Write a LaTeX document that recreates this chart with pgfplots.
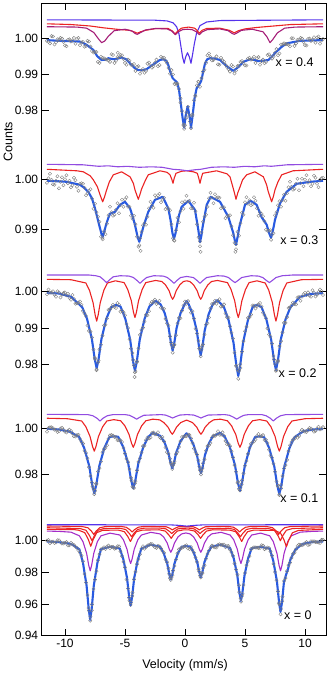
\documentclass[border=0pt]{standalone}
\usepackage{fontspec}
\setmainfont{Liberation Sans}
\usepackage{pgfplots}
\pgfplotsset{compat=1.18}

\definecolor{fitblue}{RGB}{40,90,225}
\definecolor{cred}{RGB}{235,35,35}
\definecolor{cviolet}{RGB}{145,75,225}
\definecolor{cmag}{RGB}{165,30,120}
\definecolor{cpurp}{RGB}{165,45,200}
\definecolor{cbv}{RGB}{85,50,235}

\pgfplotsset{
  panel/.style={
    scale only axis, width=284.3pt, anchor=north west,
    xmin=-11.94, xmax=11.75,
    axis line style={draw=none},
    major tick style={black, line width=0.8pt},
    major tick length=7pt,
    ytick pos=both,
    /pgf/number format/assume math mode=true,
    yticklabel style={/pgf/number format/.cd, fixed, fixed zerofill, precision=2},
    tick label style={font=\fontsize{12}{14}\selectfont},
  },
  scat/.style={only marks, mark=o, mark size=1.65pt, mark options={draw=black!50, line width=0.4pt}},
  fit/.style={fitblue, line width=2.1pt, line join=round},
  comp/.style={line width=1.1pt, line join=round},
}
\newcommand{\lab}{\fontsize{12.5}{14}\selectfont}

\begin{document}
\begin{tikzpicture}
\useasboundingbox (0,0) rectangle (331pt,-674pt);

% ---- x = 0.4
\begin{axis}[panel, name=p1, at={(41.7pt,-3pt)}, height=137pt,
  ymin=0.97191, ymax=1.00975, ytick={0.98,0.99,1.00},
  xtick={-10,-5,0,5,10}, xtick pos=right, xticklabels={}]
\addplot[scat] coordinates {
(-11.5,0.9993) (-11.25,0.9986) (-11.0,1.0005) (-10.75,0.9989) (-10.5,0.9995) (-10.25,0.9999) (-10.0,0.998) (-9.75,0.9996) (-9.5,0.9991) (-9.25,1.0001)
(-9.0,0.9998) (-8.75,0.9981) (-8.5,0.999) (-8.25,0.9979) (-8.0,0.9991) (-7.75,0.9965) (-7.5,0.9962) (-7.25,0.9935) (-7.0,0.9949) (-6.75,0.9945)
(-6.5,0.9941) (-6.25,0.9935) (-6.0,0.9954) (-5.75,0.9938) (-5.5,0.9947) (-5.25,0.9953) (-5.0,0.9932) (-4.75,0.9941) (-4.5,0.9927) (-4.25,0.9929)
(-4.0,0.9921) (-3.75,0.9902) (-3.5,0.9915) (-3.25,0.991) (-3.0,0.9933) (-2.75,0.9919) (-2.5,0.9932) (-2.25,0.9923) (-2.0,0.9949) (-1.75,0.9946)
(-1.5,0.9932) (-1.25,0.9902) (-1.0,0.99) (-0.75,0.9876) (-0.5,0.986) (-0.25,0.9799) (0.0,0.976) (0.25,0.9811) (0.5,0.9752) (0.75,0.9829)
(1.0,0.987) (1.25,0.9866) (1.5,0.9908) (1.75,0.9932) (2.0,0.9958) (2.25,0.9939) (2.5,0.9945) (2.75,0.9928) (3.0,0.9946) (3.25,0.9935)
(3.5,0.9921) (3.75,0.9908) (4.0,0.9922) (4.25,0.9911) (4.5,0.9924) (4.75,0.9937) (5.0,0.9925) (5.25,0.9944) (5.5,0.9941) (5.75,0.9949)
(6.0,0.9945) (6.25,0.9927) (6.5,0.9941) (6.75,0.9935) (7.0,0.9956) (7.25,0.9944) (7.5,0.996) (7.75,0.9953) (8.0,0.9983) (8.25,0.9986)
(8.5,0.9984) (8.75,0.9978) (9.0,1.0) (9.25,0.9986) (9.5,0.9995) (9.75,0.9999) (10.0,0.9981) (10.25,0.9998) (10.5,0.9993) (10.75,1.0003)
(11.0,1.0002) (11.25,0.9985) (11.5,0.9998)
(-0.07,0.975) (-0.12,0.9762) (0.42,0.977) (0.12,0.9795) (0.62,0.979) (-0.38,0.9822) (0.85,0.9842) (-0.7,0.9872) (1.1,0.988) (-5.6,0.996)
};
\addplot[scat] coordinates {
(-11.375,0.999) (-11.125,1.0006) (-10.875,0.9983) (-10.625,0.9997) (-10.375,1.0001) (-10.125,0.999) (-9.875,0.9978) (-9.625,0.9997) (-9.375,0.9994) (-9.125,0.9985)
(-8.875,1.0001) (-8.625,0.9988) (-8.375,0.9977) (-8.125,0.9993) (-7.875,0.9977) (-7.625,0.9961) (-7.375,0.9962) (-7.125,0.9932) (-6.875,0.9946) (-6.625,0.9942)
(-6.375,0.9939) (-6.125,0.9956) (-5.875,0.9932) (-5.625,0.9948) (-5.375,0.9954) (-5.125,0.9943) (-4.875,0.9927) (-4.625,0.9938) (-4.375,0.9926) (-4.125,0.991)
(-3.875,0.9923) (-3.625,0.9911) (-3.375,0.9905) (-3.125,0.993) (-2.875,0.9925) (-2.625,0.9923) (-2.375,0.9941) (-2.125,0.9926) (-1.875,0.9946) (-1.625,0.9938)
(-1.375,0.9918) (-1.125,0.9912) (-0.875,0.9874) (-0.625,0.9874) (-0.375,0.9834) (-0.125,0.9759) (0.125,0.9781) (0.375,0.9787) (0.625,0.9786) (0.875,0.984)
(1.125,0.988) (1.375,0.989) (1.625,0.9913) (1.875,0.9953) (2.125,0.9948) (2.375,0.994) (2.625,0.995) (2.875,0.9927) (3.125,0.9939) (3.375,0.9927)
(3.625,0.9915) (3.875,0.9926) (4.125,0.9903) (4.375,0.9923) (4.625,0.9935) (4.875,0.9931) (5.125,0.9925) (5.375,0.9946) (5.625,0.9943) (5.875,0.9932)
(6.125,0.9948) (6.375,0.9937) (6.625,0.9931) (6.875,0.9954) (7.125,0.9949) (7.375,0.995) (7.625,0.997) (7.875,0.9958) (8.125,0.9983) (8.375,0.9984)
(8.625,0.9982) (8.875,1.0) (9.125,0.9979) (9.375,0.9996) (9.625,1.0001) (9.875,0.999) (10.125,0.998) (10.375,0.9999) (10.625,0.9996) (10.875,0.9988)
(11.125,1.0005) (11.375,0.9994)
};
\addplot[fit] coordinates {
(-11.5,0.9995) (-10.5,0.9993) (-9.5,0.9992) (-8.75,0.9991) (-8.2,0.9982) (-7.64,0.9968) (-7.3,0.995) (-6.95,0.994) (-6.6,0.9941) (-6.39,0.9945)
(-6.1,0.9943) (-5.83,0.9942) (-5.5,0.9945) (-5.28,0.9947) (-4.9,0.9942) (-4.58,0.9931) (-4.2,0.9918) (-3.89,0.9912) (-3.5,0.9912) (-3.19,0.9915)
(-2.8,0.9924) (-2.5,0.9931) (-2.1,0.994) (-1.81,0.9942) (-1.55,0.9938) (-1.39,0.9926) (-1.2,0.9905) (-1.03,0.989) (-0.85,0.9884) (-0.65,0.9878)
(-0.5,0.9858) (-0.35,0.982) (-0.2,0.978) (-0.07,0.9753) (0.05,0.9785) (0.22,0.9812) (0.38,0.9785) (0.5,0.9753) (0.63,0.9785) (0.8,0.9835)
(0.97,0.9862) (1.15,0.987) (1.35,0.9882) (1.5,0.9905) (1.67,0.9931) (1.85,0.9942) (2.08,0.9945) (2.5,0.9944) (2.92,0.994) (3.4,0.9925)
(4.03,0.991) (4.5,0.9922) (4.86,0.9935) (5.42,0.9942) (5.8,0.994) (6.1,0.9937) (6.5,0.9938) (6.94,0.994) (7.2,0.9948) (7.5,0.9959)
(8.0,0.9975) (8.47,0.9986) (9.58,0.9993) (10.5,0.9994) (11.5,0.9995)
};
\addplot[comp, cbv] coordinates {
(-11.5,1.0051) (-2.5,1.005) (-1.5,1.0048) (-1.0,1.0043) (-0.7,1.0032) (-0.5,1.0012) (-0.35,0.998) (-0.2,0.9948) (-0.07,0.9931) (0.05,0.9948)
(0.21,0.996) (0.37,0.9948) (0.5,0.9931) (0.63,0.9955) (0.78,0.9985) (0.97,1.0015) (1.25,1.0035) (1.8,1.0045) (2.9,1.0049) (11.5,1.0051)
};
\addplot[comp, cred] coordinates {
(-11.5,1.004) (-9.5,1.0038) (-7.9,1.0034) (-6.8,1.0029) (-5.7,1.0025) (-4.6,1.0022) (-4.25,1.0018) (-3.97,1.0014) (-3.7,1.0018) (-3.3,1.0022)
(-2.4,1.0027) (-1.4,1.0027) (-1.05,1.002) (-0.83,1.0012) (-0.6,1.002) (-0.3,1.0028) (0.3,1.0031) (0.8,1.0028) (1.0,1.0022) (1.2,1.0014)
(1.42,1.0022) (1.8,1.0027) (2.9,1.0028) (3.7,1.0022) (4.1,1.0015) (4.45,1.0021) (5.0,1.0026) (6.0,1.003) (7.4,1.0034) (8.8,1.0038) (11.5,1.004)
};
\addplot[comp, cmag] coordinates {
(-11.5,1.0032) (-9.0,1.0031) (-8.2,1.0028) (-7.6,1.0016) (-7.2,0.9998) (-6.95,0.9988) (-6.7,0.9992) (-6.4,1.0005) (-5.9,1.0021) (-5.0,1.0025)
(-4.4,1.002) (-4.15,1.0013) (-3.97,1.0011) (-3.75,1.0015) (-3.3,1.0023) (-2.5,1.0027) (-1.5,1.0026) (-1.1,1.002) (-0.8,1.001) (-0.55,1.0018)
(-0.2,1.0024) (0.2,1.0025) (0.6,1.0024) (0.95,1.0018) (1.2,1.001) (1.45,1.0018) (1.85,1.0024) (2.9,1.0026) (3.6,1.0021) (3.9,1.0014)
(4.1,1.0011) (4.3,1.0014) (4.7,1.0022) (5.6,1.0025) (6.5,1.0018) (6.85,1.0003) (7.08,0.9988) (7.3,0.9996) (7.7,1.0015) (8.3,1.0028)
(9.2,1.0031) (11.5,1.0032)
};
\node[anchor=east, font=\lab] at (axis cs:11.0,0.9934) {x = 0.4};
\end{axis}

% ---- x = 0.3
\begin{axis}[panel, name=p2, at={(41.7pt,-140pt)}, height=122pt,
  ymin=0.98346, ymax=1.00786, ytick={0.99,1.00}, xtick=\empty]
\addplot[scat] coordinates {
(-11.5,0.9993) (-11.25,1.0011) (-11.0,0.999) (-10.75,0.9997) (-10.5,0.9982) (-10.25,1.0004) (-10.0,1.0) (-9.75,0.9992) (-9.5,0.9984) (-9.25,1.0003)
(-9.0,0.9985) (-8.75,0.9991) (-8.5,0.9991) (-8.25,0.9968) (-8.0,0.9977) (-7.75,0.9961) (-7.5,0.9951) (-7.25,0.9925) (-7.0,0.9885) (-6.75,0.9896)
(-6.5,0.9911) (-6.25,0.9945) (-6.0,0.9927) (-5.75,0.9939) (-5.5,0.9932) (-5.25,0.9959) (-5.0,0.996) (-4.75,0.9945) (-4.5,0.9927) (-4.25,0.9927)
(-4.0,0.9885) (-3.75,0.9882) (-3.5,0.9908) (-3.25,0.9909) (-3.0,0.9942) (-2.75,0.9947) (-2.5,0.9968) (-2.25,0.9968) (-2.0,0.9954) (-1.75,0.9963)
(-1.5,0.9943) (-1.25,0.9938) (-1.0,0.9882) (-0.75,0.9898) (-0.5,0.9914) (-0.25,0.9954) (0.0,0.9956) (0.25,0.9955) (0.5,0.9942) (0.75,0.9953)
(1.0,0.991) (1.25,0.9876) (1.5,0.9915) (1.75,0.9929) (2.0,0.9962) (2.25,0.9963) (2.5,0.997) (2.75,0.9964) (3.0,0.9942) (3.25,0.9944)
(3.5,0.9926) (3.75,0.9928) (4.0,0.9888) (4.25,0.987) (4.5,0.9887) (4.75,0.9933) (5.0,0.9954) (5.25,0.9951) (5.5,0.9948) (5.75,0.9964)
(6.0,0.9942) (6.25,0.9934) (6.5,0.9926) (6.75,0.9899) (7.0,0.9897) (7.25,0.9889) (7.5,0.9928) (7.75,0.9948) (8.0,0.9945) (8.25,0.9969)
(8.5,0.9972) (8.75,0.9995) (9.0,0.9979) (9.25,0.9991) (9.5,0.9978) (9.75,1.0001) (10.0,0.9999) (10.25,0.9993) (10.5,0.9986) (10.75,1.0007)
(11.0,0.9991) (11.25,0.9999) (11.5,1.0003)
(-6.86,0.988) (-3.81,0.9868) (-0.92,0.9878) (1.25,0.9866) (4.25,0.986) (7.17,0.9879) (-3.7,0.9857) (1.3,0.9855) (4.2,0.9855)
};
\addplot[scat] coordinates {
(-11.375,1.0002) (-11.125,0.9999) (-10.875,0.9989) (-10.625,1.0006) (-10.375,0.9995) (-10.125,0.9988) (-9.875,1.0008) (-9.625,0.9997) (-9.375,0.9988) (-9.125,0.9998)
(-8.875,0.9977) (-8.625,0.9992) (-8.375,0.9983) (-8.125,0.9972) (-7.875,0.998) (-7.625,0.9941) (-7.375,0.9934) (-7.125,0.9915) (-6.875,0.9883) (-6.625,0.989)
(-6.375,0.9928) (-6.125,0.9934) (-5.875,0.9929) (-5.625,0.9952) (-5.375,0.9948) (-5.125,0.9945) (-4.875,0.9964) (-4.625,0.9945) (-4.375,0.9921) (-4.125,0.991)
(-3.875,0.9865) (-3.625,0.9895) (-3.375,0.9912) (-3.125,0.9925) (-2.875,0.9955) (-2.625,0.9943) (-2.375,0.9964) (-2.125,0.9971) (-1.875,0.9959) (-1.625,0.994)
(-1.375,0.9941) (-1.125,0.991) (-0.875,0.9877) (-0.625,0.9923) (-0.375,0.9936) (-0.125,0.9941) (0.125,0.9967) (0.375,0.9957) (0.625,0.9942) (0.875,0.9936)
(1.125,0.9884) (1.375,0.9894) (1.625,0.9925) (1.875,0.9945) (2.125,0.9973) (2.375,0.9952) (2.625,0.9963) (2.875,0.9963) (3.125,0.9944) (3.375,0.9922)
(3.625,0.9927) (3.875,0.9906) (4.125,0.9873) (4.375,0.9895) (4.625,0.9912) (4.875,0.9929) (5.125,0.9964) (5.375,0.9958) (5.625,0.995) (5.875,0.9957)
(6.125,0.9927) (6.375,0.9931) (6.625,0.9916) (6.875,0.9897) (7.125,0.9898) (7.375,0.9892) (7.625,0.9934) (7.875,0.9956) (8.125,0.9958) (8.375,0.9957)
(8.625,0.9984) (8.875,0.9985) (9.125,0.9981) (9.375,1.0001) (9.625,0.9992) (9.875,0.9986) (10.125,1.0008) (10.375,0.9998) (10.625,0.9991) (10.875,1.0003)
(11.125,0.9984) (11.375,1.0002)
};
\addplot[fit] coordinates {
(-11.5,0.9997) (-10.5,0.9996) (-9.86,0.9995) (-9.3,0.9992) (-8.75,0.9989) (-8.4,0.9983) (-8.06,0.9975) (-7.75,0.9962) (-7.5,0.9942) (-7.25,0.9918)
(-7.08,0.9902) (-6.95,0.989) (-6.86,0.9885) (-6.75,0.9893) (-6.58,0.9909) (-6.4,0.9922) (-6.25,0.9931) (-5.83,0.9935) (-5.42,0.9949) (-5.0,0.9955)
(-4.58,0.9942) (-4.35,0.9925) (-4.17,0.9909) (-3.95,0.9885) (-3.81,0.9875) (-3.67,0.9887) (-3.47,0.9905) (-3.06,0.9935) (-2.5,0.9959) (-1.86,0.9965)
(-1.39,0.9942) (-1.2,0.9918) (-1.05,0.9893) (-0.92,0.9881) (-0.8,0.9891) (-0.69,0.9905) (-0.5,0.9928) (-0.28,0.9945) (0.28,0.9957) (0.83,0.9939)
(1.0,0.9915) (1.11,0.9899) (1.25,0.9874) (1.37,0.9888) (1.47,0.9905) (1.81,0.9949) (2.14,0.9965) (2.92,0.9955) (3.61,0.9925) (4.03,0.9892)
(4.15,0.9878) (4.25,0.9869) (4.38,0.9884) (4.53,0.9905) (5.0,0.9949) (5.47,0.9957) (5.97,0.9949) (6.39,0.9924) (6.81,0.9909) (7.0,0.9893)
(7.17,0.9883) (7.33,0.9898) (7.5,0.9919) (7.92,0.9952) (8.47,0.9975) (9.31,0.9991) (10.42,0.9995) (11.5,0.9997)
};
\addplot[comp, cred] coordinates {
(-11.5,1.002) (-9.0,1.0017) (-8.47,1.0015) (-7.9,1.0007) (-7.64,0.9999) (-7.3,0.9985) (-7.08,0.9969) (-6.86,0.9955) (-6.7,0.9965) (-6.58,0.9975)
(-6.3,0.9995) (-5.97,1.0009) (-5.28,1.0015) (-4.58,1.0005) (-4.3,0.9992) (-4.17,0.9979) (-3.89,0.996) (-3.75,0.997) (-3.61,0.9981) (-3.3,0.9998)
(-3.06,1.0009) (-2.08,1.0017) (-1.5,1.0014) (-1.25,1.0009) (-1.1,1.0) (-1.0,0.9992) (-0.9,1.0002) (-0.75,1.0012) (-0.3,1.0016) (0.14,1.0017)
(0.7,1.0015) (1.03,1.0012) (1.15,1.0002) (1.25,0.9992) (1.35,1.0002) (1.47,1.0012) (2.64,1.0017) (3.5,1.0011) (3.75,1.0005) (4.03,0.9981)
(4.15,0.997) (4.25,0.996) (4.4,0.9973) (4.53,0.9981) (4.8,0.9999) (5.14,1.0009) (5.83,1.0015) (6.53,1.0005) (6.8,0.9989) (6.94,0.9975)
(7.22,0.9955) (7.38,0.9967) (7.5,0.9979) (7.75,0.9995) (8.06,1.0009) (9.0,1.0017) (11.5,1.002)
};
\addplot[comp, cviolet] coordinates {
(-11.5,1.003) (-8.5,1.0029) (-7.2,1.0026) (-6.4,1.0027) (-5.6,1.0025) (-4.8,1.0026) (-3.8,1.0024) (-2.8,1.0025) (-1.9,1.0024) (-1.0,1.002)
(-0.4,1.0019) (0.2,1.0017) (0.8,1.0019) (1.3,1.002) (2.2,1.0024) (3.2,1.0025) (4.1,1.0024) (5.0,1.0026) (5.8,1.0025) (6.6,1.0027)
(7.2,1.0026) (8.5,1.0029) (11.5,1.003)
};
\node[anchor=east, font=\lab] at (axis cs:11.4,0.9879) {x = 0.3};
\end{axis}

% ---- x = 0.2
\begin{axis}[panel, name=p3, at={(41.7pt,-262pt)}, height=130pt,
  ymin=0.97237, ymax=1.00818, ytick={0.98,0.99,1.00}, xtick=\empty]
\addplot[scat] coordinates {
(-11.5,0.9993) (-11.25,0.9997) (-11.0,1.0001) (-10.75,0.9986) (-10.5,0.9998) (-10.25,0.9992) (-10.0,0.9998) (-9.75,0.9994) (-9.5,0.9978) (-9.25,0.998)
(-9.0,0.9968) (-8.75,0.9973) (-8.5,0.9947) (-8.25,0.9933) (-8.0,0.9892) (-7.75,0.9874) (-7.5,0.9815) (-7.25,0.9805) (-7.0,0.9854) (-6.75,0.9907)
(-6.5,0.9926) (-6.25,0.9951) (-6.0,0.9964) (-5.75,0.9955) (-5.5,0.9964) (-5.25,0.9948) (-5.0,0.9935) (-4.75,0.99) (-4.5,0.9843) (-4.25,0.9797)
(-4.0,0.9808) (-3.75,0.9881) (-3.5,0.9901) (-3.25,0.9936) (-3.0,0.9946) (-2.75,0.9972) (-2.5,0.9978) (-2.25,0.9969) (-2.0,0.9956) (-1.75,0.9953)
(-1.5,0.9913) (-1.25,0.9877) (-1.0,0.9847) (-0.75,0.988) (-0.5,0.9928) (-0.25,0.9948) (0.0,0.9973) (0.25,0.9974) (0.5,0.9942) (0.75,0.9926)
(1.0,0.9885) (1.25,0.9845) (1.5,0.9855) (1.75,0.9909) (2.0,0.9929) (2.25,0.9966) (2.5,0.9975) (2.75,0.9974) (3.0,0.9959) (3.25,0.9965)
(3.5,0.993) (3.75,0.9905) (4.0,0.9871) (4.25,0.9796) (4.5,0.9782) (4.75,0.9835) (5.0,0.9891) (5.25,0.9928) (5.5,0.9937) (5.75,0.9962)
(6.0,0.9961) (6.25,0.9969) (6.5,0.9942) (6.75,0.9927) (7.0,0.9882) (7.25,0.9857) (7.5,0.9801) (7.75,0.9811) (8.0,0.9864) (8.25,0.9914)
(8.5,0.993) (8.75,0.9956) (9.0,0.997) (9.25,0.9965) (9.5,0.9985) (9.75,0.9986) (10.0,0.9997) (10.25,0.9998) (10.5,0.9986) (10.75,0.9997)
(11.0,0.9992) (11.25,1.0006) (11.5,0.9991)
(-7.36,0.9786) (-4.17,0.9778) (-1.03,0.9832) (1.31,0.9822) (4.44,0.976) (7.58,0.9782) (-4.2,0.9765)
(-7.52,0.9818) (-7.2,0.981) (-4.33,0.9812) (-4.01,0.9806) (-1.16,0.986) (-0.9,0.9853) (1.18,0.9843) (1.44,0.985) (4.28,0.9795) (4.6,0.98) (7.42,0.9813) (7.74,0.9807)
};
\addplot[scat] coordinates {
(-11.375,1.0006) (-11.125,0.9998) (-10.875,0.9992) (-10.625,1.0001) (-10.375,0.9984) (-10.125,0.9996) (-9.875,0.999) (-9.625,0.9983) (-9.375,0.9991) (-9.125,0.9967)
(-8.875,0.997) (-8.625,0.9964) (-8.375,0.994) (-8.125,0.9907) (-7.875,0.989) (-7.625,0.9841) (-7.375,0.9784) (-7.125,0.9841) (-6.875,0.9879) (-6.625,0.9909)
(-6.375,0.995) (-6.125,0.9957) (-5.875,0.9958) (-5.625,0.9969) (-5.375,0.9945) (-5.125,0.9943) (-4.875,0.9911) (-4.625,0.9869) (-4.375,0.9831) (-4.125,0.9781)
(-3.875,0.9844) (-3.625,0.9895) (-3.375,0.9918) (-3.125,0.9935) (-2.875,0.9966) (-2.625,0.9971) (-2.375,0.9966) (-2.125,0.9975) (-1.875,0.9953) (-1.625,0.9925)
(-1.375,0.9907) (-1.125,0.9854) (-0.875,0.9854) (-0.625,0.9913) (-0.375,0.9927) (-0.125,0.9962) (0.125,0.9967) (0.375,0.9955) (0.625,0.9946) (0.875,0.9898)
(1.125,0.9865) (1.375,0.984) (1.625,0.9882) (1.875,0.9913) (2.125,0.9954) (2.375,0.9967) (2.625,0.9967) (2.875,0.9979) (3.125,0.9961) (3.375,0.994)
(3.625,0.9929) (3.875,0.9887) (4.125,0.9832) (4.375,0.9785) (4.625,0.979) (4.875,0.9864) (5.125,0.9903) (5.375,0.993) (5.625,0.9962) (5.875,0.9954)
(6.125,0.9965) (6.375,0.9959) (6.625,0.9935) (6.875,0.9899) (7.125,0.9876) (7.375,0.9823) (7.625,0.9784) (7.875,0.985) (8.125,0.9888) (8.375,0.9914)
(8.625,0.9955) (8.875,0.9962) (9.125,0.9966) (9.375,0.9984) (9.625,0.9975) (9.875,0.9993) (10.125,0.9991) (10.375,0.9989) (10.625,1.0004) (10.875,0.9987)
(11.125,0.9999) (11.375,1.0002)
};
\addplot[fit] coordinates {
(-11.5,0.9997) (-10.5,0.9995) (-9.5,0.9986) (-8.56,0.9957) (-8.16,0.9925) (-7.76,0.987) (-7.52,0.9814) (-7.36,0.9789) (-7.2,0.9814) (-6.96,0.987)
(-6.56,0.9925) (-6.16,0.9957) (-5.75,0.9964) (-5.37,0.9959) (-4.97,0.9925) (-4.57,0.9868) (-4.33,0.9809) (-4.17,0.9782) (-4.01,0.9809) (-3.77,0.9868)
(-3.37,0.9925) (-2.97,0.9959) (-2.45,0.9975) (-2.03,0.9965) (-1.69,0.9941) (-1.36,0.99) (-1.16,0.9857) (-1.03,0.9838) (-0.9,0.9857) (-0.7,0.99)
(-0.37,0.9941) (-0.03,0.9965) (0.14,0.9974) (0.31,0.9965) (0.65,0.9938) (0.98,0.9893) (1.18,0.9846) (1.31,0.9825) (1.44,0.9846) (1.64,0.9893)
(1.97,0.9938) (2.31,0.9965) (2.7,0.9977) (3.24,0.9958) (3.64,0.9921) (4.04,0.986) (4.28,0.9797) (4.44,0.9768) (4.6,0.9797) (4.84,0.986)
(5.24,0.9921) (5.64,0.9958) (6.0,0.9964) (6.38,0.9957) (6.78,0.9924) (7.18,0.9868) (7.42,0.981) (7.58,0.9784) (7.74,0.981) (7.98,0.9868)
(8.38,0.9924) (8.78,0.9957) (9.6,0.9986) (10.5,0.9994) (11.5,0.9996)
};
\addplot[comp, cred] coordinates {
(-11.5,1.0034) (-9.5,1.0033) (-8.26,1.0024) (-7.96,1.0004) (-7.66,0.997) (-7.48,0.9935) (-7.36,0.9919) (-7.24,0.9935) (-7.06,0.997) (-6.76,1.0004)
(-6.46,1.0024) (-5.8,1.003) (-5.07,1.0025) (-4.77,1.0006) (-4.47,0.9975) (-4.29,0.9943) (-4.17,0.9929) (-4.05,0.9943) (-3.87,0.9975) (-3.57,1.0006)
(-3.27,1.0025) (-2.45,1.0031) (-1.93,1.0028) (-1.63,1.0019) (-1.33,1.0003) (-1.15,0.9986) (-1.03,0.9979) (-0.91,0.9986) (-0.73,1.0003) (-0.43,1.0019)
(-0.13,1.0028) (0.14,1.003) (0.41,1.0028) (0.71,1.0019) (1.01,1.0003) (1.19,0.9986) (1.31,0.9979) (1.43,0.9986) (1.61,1.0003) (1.91,1.0019)
(2.21,1.0028) (2.7,1.0031) (3.54,1.0025) (3.84,1.0006) (4.14,0.9975) (4.32,0.9943) (4.44,0.9929) (4.56,0.9943) (4.74,0.9975) (5.04,1.0006)
(5.34,1.0025) (6.0,1.003) (6.68,1.0024) (6.98,1.0004) (7.28,0.997) (7.46,0.9935) (7.58,0.9919) (7.7,0.9935) (7.88,0.997) (8.18,1.0004)
(8.48,1.0024) (9.7,1.0033) (11.5,1.0034)
};
\addplot[comp, cviolet] coordinates {
(-11.5,1.0046) (-8.0,1.0046) (-7.43,1.0044) (-7.08,1.0041) (-6.78,1.0033) (-6.53,1.0025) (-6.28,1.0033) (-5.98,1.0041) (-5.4,1.0044) (-4.65,1.0043)
(-4.3,1.0039) (-4.0,1.0031) (-3.75,1.0023) (-3.5,1.0031) (-3.2,1.0039) (-2.6,1.0044) (-1.8,1.0043) (-1.47,1.0039) (-1.17,1.0031) (-0.92,1.0023)
(-0.67,1.0031) (-0.37,1.0039) (0.15,1.0042) (0.7,1.0039) (1.0,1.0031) (1.25,1.0023) (1.5,1.0031) (1.8,1.0039) (2.7,1.0044) (3.27,1.0043)
(3.62,1.0039) (3.92,1.0031) (4.17,1.0025) (4.42,1.0031) (4.72,1.0039) (5.5,1.0044) (6.13,1.0043) (6.48,1.0039) (6.78,1.0031) (7.03,1.0025)
(7.28,1.0031) (7.58,1.0039) (8.1,1.0044) (9.0,1.0046) (11.5,1.0046)
};
\node[anchor=east, font=\lab] at (axis cs:11.25,0.97752) {x = 0.2};
\end{axis}

% ---- x = 0.1
\begin{axis}[panel, name=p4, at={(41.7pt,-392pt)}, height=128pt,
  ymin=0.95987, ymax=1.01589, ytick={0.98,1.00}, xtick=\empty]
\addplot[scat] coordinates {
(-11.5,0.9985) (-11.25,1.0004) (-11.0,1.0) (-10.75,0.9994) (-10.5,0.9987) (-10.25,1.0002) (-10.0,0.9985) (-9.75,0.9989) (-9.5,0.9988) (-9.25,0.9965)
(-9.0,0.997) (-8.75,0.9953) (-8.5,0.9933) (-8.25,0.9892) (-8.0,0.983) (-7.75,0.9762) (-7.5,0.9726) (-7.25,0.9811) (-7.0,0.9855) (-6.75,0.9909)
(-6.5,0.9926) (-6.25,0.9969) (-6.0,0.9968) (-5.75,0.9962) (-5.5,0.9948) (-5.25,0.994) (-5.0,0.9889) (-4.75,0.9852) (-4.5,0.9783) (-4.25,0.9739)
(-4.0,0.9816) (-3.75,0.9869) (-3.5,0.9922) (-3.25,0.9948) (-3.0,0.9956) (-2.75,0.9979) (-2.5,0.9973) (-2.25,0.9983) (-2.0,0.9956) (-1.75,0.9943)
(-1.5,0.9896) (-1.25,0.9867) (-1.0,0.9839) (-0.75,0.9887) (-0.5,0.9918) (-0.25,0.9962) (0.0,0.9966) (0.25,0.9973) (0.5,0.9956) (0.75,0.9911)
(1.0,0.9885) (1.25,0.9817) (1.5,0.9847) (1.75,0.9902) (2.0,0.9926) (2.25,0.996) (2.5,0.9967) (2.75,0.9987) (3.0,0.9972) (3.25,0.9967)
(3.5,0.993) (3.75,0.9922) (4.0,0.9873) (4.25,0.981) (4.5,0.9735) (4.75,0.9772) (5.0,0.9836) (5.25,0.9888) (5.5,0.9932) (5.75,0.9942)
(6.0,0.9966) (6.25,0.9964) (6.5,0.997) (6.75,0.995) (7.0,0.9906) (7.25,0.9871) (7.5,0.981) (7.75,0.9749) (8.0,0.9737) (8.25,0.9824)
(8.5,0.9862) (8.75,0.9926) (9.0,0.9951) (9.25,0.9964) (9.5,0.9967) (9.75,0.9993) (10.0,0.9985) (10.25,0.9993) (10.5,0.9999) (10.75,0.9985)
(11.0,0.9999) (11.25,0.9995) (11.5,1.0005)
(-7.56,0.9712) (-4.31,0.974) (-1.06,0.9822) (1.33,0.9798) (4.58,0.9728) (7.86,0.9708)
(-7.7,0.9745) (-7.42,0.9758) (-4.45,0.9772) (-4.17,0.976) (-1.19,0.985) (-0.93,0.9845) (1.2,0.9832) (1.46,0.9826) (4.44,0.9766) (4.72,0.9755) (7.72,0.9748) (8.0,0.9752)
};
\addplot[scat] coordinates {
(-11.375,1.0001) (-11.125,1.0004) (-10.875,0.9994) (-10.625,0.9984) (-10.375,0.9999) (-10.125,0.9993) (-9.875,0.9982) (-9.625,0.9994) (-9.375,0.9978) (-9.125,0.9964)
(-8.875,0.9972) (-8.625,0.9942) (-8.375,0.9902) (-8.125,0.9869) (-7.875,0.9791) (-7.625,0.9735) (-7.375,0.9757) (-7.125,0.9825) (-6.875,0.9895) (-6.625,0.9914)
(-6.375,0.9954) (-6.125,0.997) (-5.875,0.9962) (-5.625,0.9948) (-5.375,0.9948) (-5.125,0.9914) (-4.875,0.9866) (-4.625,0.9822) (-4.375,0.9745) (-4.125,0.9768)
(-3.875,0.9853) (-3.625,0.9894) (-3.375,0.9924) (-3.125,0.996) (-2.875,0.996) (-2.625,0.9981) (-2.375,0.9974) (-2.125,0.9962) (-1.875,0.9962) (-1.625,0.9916)
(-1.375,0.9888) (-1.125,0.9842) (-0.875,0.9855) (-0.625,0.9896) (-0.375,0.9944) (-0.125,0.9963) (0.125,0.9965) (0.375,0.997) (0.625,0.9935) (0.875,0.9895)
(1.125,0.9859) (1.375,0.9812) (1.625,0.9864) (1.875,0.9922) (2.125,0.9936) (2.375,0.9968) (2.625,0.9973) (2.875,0.9972) (3.125,0.9982) (3.375,0.9945)
(3.625,0.9932) (3.875,0.9899) (4.125,0.9839) (4.375,0.9761) (4.625,0.9742) (4.875,0.9803) (5.125,0.9857) (5.375,0.9915) (5.625,0.9938) (5.875,0.9951)
(6.125,0.9975) (6.375,0.9966) (6.625,0.9949) (6.875,0.9936) (7.125,0.9881) (7.375,0.9845) (7.625,0.9767) (7.875,0.971) (8.125,0.9792) (8.375,0.9839)
(8.625,0.99) (8.875,0.994) (9.125,0.9955) (9.375,0.9959) (9.625,0.9984) (9.875,0.9988) (10.125,0.9984) (10.375,1.0001) (10.625,0.9993) (10.875,0.9989)
(11.125,1.0007) (11.375,0.9999)
};
\addplot[fit] coordinates {
(-11.5,0.9998) (-10.5,0.9995) (-9.6,0.9985) (-8.82,0.9962) (-8.4,0.9914) (-7.98,0.9835) (-7.73,0.9753) (-7.56,0.9716) (-7.39,0.9753) (-7.14,0.9835)
(-6.72,0.9914) (-6.3,0.9962) (-5.93,0.9965) (-5.57,0.9963) (-5.15,0.9919) (-4.73,0.9846) (-4.48,0.9771) (-4.31,0.9737) (-4.14,0.9771) (-3.89,0.9846)
(-3.47,0.9919) (-3.05,0.9963) (-2.68,0.998) (-2.06,0.9967) (-1.72,0.994) (-1.39,0.9894) (-1.19,0.9846) (-1.06,0.9825) (-0.93,0.9846) (-0.73,0.9894)
(-0.4,0.994) (-0.06,0.9967) (0.13,0.9978) (0.33,0.9966) (0.67,0.9934) (1.0,0.9882) (1.2,0.9828) (1.33,0.9803) (1.46,0.9828) (1.66,0.9882)
(1.99,0.9934) (2.33,0.9966) (2.95,0.998) (3.32,0.9962) (3.74,0.9917) (4.16,0.984) (4.41,0.9762) (4.58,0.9726) (4.75,0.9762) (5.0,0.984)
(5.42,0.9917) (5.84,0.9962) (6.22,0.9965) (6.6,0.9961) (7.02,0.9913) (7.44,0.9833) (7.69,0.975) (7.86,0.9713) (8.03,0.975) (8.28,0.9833)
(8.7,0.9913) (9.12,0.9961) (9.9,0.9988) (10.7,0.9995) (11.5,0.9997)
};
\addplot[comp, cred] coordinates {
(-11.5,1.0044) (-9.8,1.0042) (-8.61,1.0032) (-8.26,1.0007) (-7.91,0.9964) (-7.7,0.992) (-7.56,0.99) (-7.42,0.992) (-7.21,0.9964) (-6.86,1.0007)
(-6.51,1.0032) (-5.93,1.0038) (-5.36,1.0033) (-5.01,1.0011) (-4.66,0.9973) (-4.45,0.9934) (-4.31,0.9917) (-4.17,0.9934) (-3.96,0.9973) (-3.61,1.0011)
(-3.26,1.0033) (-2.68,1.004) (-2.11,1.0037) (-1.76,1.0025) (-1.41,1.0005) (-1.2,0.9984) (-1.06,0.9974) (-0.92,0.9984) (-0.71,1.0005) (-0.36,1.0025)
(0.13,1.0036) (0.63,1.0025) (0.98,1.0005) (1.19,0.9984) (1.33,0.9974) (1.47,0.9984) (1.68,1.0005) (2.03,1.0025) (2.38,1.0037) (2.95,1.004)
(3.53,1.0033) (3.88,1.0011) (4.23,0.9973) (4.44,0.9934) (4.58,0.9917) (4.72,0.9934) (4.93,0.9973) (5.28,1.0011) (5.63,1.0033) (6.22,1.0038)
(6.81,1.0032) (7.16,1.0007) (7.51,0.9964) (7.72,0.992) (7.86,0.99) (8.0,0.992) (8.21,0.9964) (8.56,1.0007) (8.91,1.0032) (10.0,1.0042) (11.5,1.0044)
};
\addplot[comp, cviolet] coordinates {
(-11.5,1.0061) (-8.1,1.006) (-7.68,1.0055) (-7.33,1.0044) (-7.08,1.0032) (-6.83,1.0044) (-6.48,1.0055) (-6.0,1.006) (-5.0,1.006) (-4.63,1.0057)
(-4.28,1.0048) (-4.03,1.004) (-3.78,1.0048) (-3.43,1.0057) (-2.0,1.006) (-1.63,1.0058) (-1.28,1.0051) (-1.03,1.0045) (-0.78,1.0051) (-0.43,1.0058)
(0.15,1.006) (0.73,1.0058) (1.08,1.0051) (1.33,1.0045) (1.58,1.0051) (1.93,1.0058) (3.3,1.006) (3.71,1.0057) (4.06,1.0048) (4.31,1.004)
(4.56,1.0048) (4.91,1.0057) (5.3,1.006) (6.4,1.006) (6.76,1.0055) (7.11,1.0044) (7.36,1.0032) (7.61,1.0044) (7.96,1.0055) (8.4,1.006) (11.5,1.0061)
};
\node[anchor=east, font=\lab] at (axis cs:11.4,0.96937) {x = 0.1};
\end{axis}

% ---- x = 0
\begin{axis}[panel, name=p5, at={(41.7pt,-520pt)}, height=115.7pt,
  ymin=0.94, ymax=1.01308, ytick={0.94,0.96,0.98,1.00},
  xtick={-10,-5,0,5,10}, xtick pos=left]
\addplot[scat] coordinates {
(-11.5,1.0001) (-11.25,0.9985) (-11.0,0.9995) (-10.75,0.9989) (-10.5,1.0003) (-10.25,0.9982) (-10.0,0.9987) (-9.75,0.997) (-9.5,0.9987) (-9.25,0.9972)
(-9.0,0.9954) (-8.75,0.9924) (-8.5,0.987) (-8.25,0.9736) (-8.0,0.9558) (-7.75,0.9598) (-7.5,0.9754) (-7.25,0.9877) (-7.0,0.9945) (-6.75,0.9959)
(-6.5,0.9963) (-6.25,0.9953) (-6.0,0.9961) (-5.75,0.9952) (-5.5,0.9964) (-5.25,0.9903) (-5.0,0.9832) (-4.75,0.9698) (-4.5,0.961) (-4.25,0.9756)
(-4.0,0.9852) (-3.75,0.9915) (-3.5,0.9965) (-3.25,0.9959) (-3.0,0.9973) (-2.75,0.9979) (-2.5,0.9959) (-2.25,0.9968) (-2.0,0.995) (-1.75,0.9923)
(-1.5,0.9865) (-1.25,0.9764) (-1.0,0.9811) (-0.75,0.9881) (-0.5,0.9945) (-0.25,0.9956) (0.0,0.9966) (0.25,0.9951) (0.5,0.996) (0.75,0.9924)
(1.0,0.9866) (1.25,0.9779) (1.5,0.9828) (1.75,0.9886) (2.0,0.9938) (2.25,0.9969) (2.5,0.9957) (2.75,0.9974) (3.0,0.9974) (3.25,0.9976)
(3.5,0.9967) (3.75,0.9944) (4.0,0.9904) (4.25,0.9818) (4.5,0.9719) (4.75,0.9651) (5.0,0.9796) (5.25,0.9872) (5.5,0.9947) (5.75,0.9959)
(6.0,0.9956) (6.25,0.9954) (6.5,0.9969) (6.75,0.9951) (7.0,0.9954) (7.25,0.9906) (7.5,0.9802) (7.75,0.968) (8.0,0.9569) (8.25,0.9746)
(8.5,0.9808) (8.75,0.9862) (9.0,0.9917) (9.25,0.9945) (9.5,0.9975) (9.75,0.9971) (10.0,0.9984) (10.25,0.9973) (10.5,0.9997) (10.75,0.9996)
(11.0,0.9991) (11.25,0.9986) (11.5,1.0005)
(-7.9,0.9495) (-4.53,0.9595) (-1.18,0.9752) (1.32,0.9768) (4.66,0.9615) (7.96,0.9535)
(-8.04,0.9575) (-7.76,0.956) (-4.67,0.964) (-4.39,0.9652) (-1.32,0.979) (-1.04,0.9782) (1.18,0.9805) (1.46,0.9795) (4.52,0.9675) (4.8,0.9664) (7.82,0.9605) (8.1,0.9618)
};
\addplot[scat] coordinates {
(-11.375,1.0004) (-11.125,0.9993) (-10.875,0.9986) (-10.625,1.0003) (-10.375,0.9992) (-10.125,0.9983) (-9.875,0.9991) (-9.625,0.9971) (-9.375,0.9978) (-9.125,0.9962)
(-8.875,0.9939) (-8.625,0.9906) (-8.375,0.979) (-8.125,0.9657) (-7.875,0.9521) (-7.625,0.9695) (-7.375,0.9807) (-7.125,0.9915) (-6.875,0.9951) (-6.625,0.9948)
(-6.375,0.9969) (-6.125,0.996) (-5.875,0.995) (-5.625,0.9965) (-5.375,0.9933) (-5.125,0.9866) (-4.875,0.9755) (-4.625,0.9622) (-4.375,0.9672) (-4.125,0.9803)
(-3.875,0.9884) (-3.625,0.9949) (-3.375,0.9949) (-3.125,0.997) (-2.875,0.9979) (-2.625,0.9969) (-2.375,0.9955) (-2.125,0.9963) (-1.875,0.9935) (-1.625,0.9881)
(-1.375,0.9825) (-1.125,0.9768) (-0.875,0.984) (-0.625,0.992) (-0.375,0.995) (-0.125,0.996) (0.125,0.9971) (0.375,0.9948) (0.625,0.9941) (0.875,0.9894)
(1.125,0.9819) (1.375,0.9792) (1.625,0.9844) (1.875,0.9916) (2.125,0.9957) (2.375,0.9963) (2.625,0.9957) (2.875,0.9978) (3.125,0.9974) (3.375,0.9959)
(3.625,0.9966) (3.875,0.9927) (4.125,0.9855) (4.375,0.9786) (4.625,0.9637) (4.875,0.972) (5.125,0.9846) (5.375,0.9902) (5.625,0.9952) (5.875,0.9957)
(6.125,0.9955) (6.375,0.9971) (6.625,0.9947) (6.875,0.9957) (7.125,0.9933) (7.375,0.9854) (7.625,0.975) (7.875,0.9597) (8.125,0.9647) (8.375,0.9764)
(8.625,0.9846) (8.875,0.9892) (9.125,0.9925) (9.375,0.9967) (9.625,0.9972) (9.875,0.9976) (10.125,0.9991) (10.375,0.9977) (10.625,0.9995) (10.875,0.9993)
(11.125,0.9989) (11.375,1.0005)
};
\addplot[fit] coordinates {
(-11.5,0.9995) (-10.5,0.9991) (-9.5,0.998) (-8.8,0.9946) (-8.5,0.986) (-8.2,0.9716) (-8.02,0.9567) (-7.9,0.95) (-7.78,0.9567) (-7.6,0.9716)
(-7.3,0.986) (-7.0,0.9946) (-6.25,0.9962) (-5.43,0.9951) (-5.13,0.9881) (-4.83,0.9765) (-4.65,0.9644) (-4.53,0.959) (-4.41,0.9644) (-4.23,0.9765)
(-3.93,0.9881) (-3.63,0.9951) (-2.85,0.9975) (-2.08,0.9962) (-1.78,0.9922) (-1.48,0.9855) (-1.3,0.9786) (-1.18,0.9755) (-1.06,0.9786) (-0.88,0.9855)
(-0.58,0.9922) (-0.28,0.9962) (0.07,0.9966) (0.42,0.9963) (0.72,0.9926) (1.02,0.9864) (1.2,0.9799) (1.32,0.977) (1.44,0.9799) (1.62,0.9864)
(1.92,0.9926) (2.22,0.9963) (3.0,0.9975) (3.76,0.9953) (4.06,0.9889) (4.36,0.9781) (4.54,0.9669) (4.66,0.962) (4.78,0.9669) (4.96,0.9781)
(5.26,0.9889) (5.56,0.9953) (6.3,0.9962) (7.06,0.995) (7.36,0.9872) (7.66,0.9744) (7.84,0.961) (7.96,0.955) (8.08,0.961) (8.24,0.9735)
(8.4,0.978) (8.56,0.9815) (8.8,0.9885) (9.2,0.9945) (9.8,0.998) (10.6,0.9991) (11.5,0.9995)
};
\addplot[comp, cpurp] coordinates {
(-11.5,1.0061) (-10.5,1.0059) (-9.5,1.0054) (-8.8,1.0031) (-8.5,0.9994) (-8.2,0.9921) (-8.02,0.9844) (-7.9,0.981) (-7.78,0.9844) (-7.6,0.9921)
(-7.3,0.9994) (-7.0,1.0031) (-6.25,1.0048) (-5.43,1.0036) (-5.13,1.0006) (-4.83,0.9946) (-4.65,0.9884) (-4.53,0.9856) (-4.41,0.9884) (-4.23,0.9946)
(-3.93,1.0006) (-3.63,1.0036) (-2.85,1.0053) (-2.08,1.0043) (-1.78,1.0024) (-1.48,0.9985) (-1.3,0.9945) (-1.18,0.9927) (-1.06,0.9945) (-0.88,0.9985)
(-0.58,1.0024) (-0.28,1.0043) (0.07,1.0049) (0.42,1.0043) (0.72,1.0024) (1.02,0.9985) (1.2,0.9945) (1.32,0.9927) (1.44,0.9945) (1.62,0.9985)
(1.92,1.0024) (2.22,1.0043) (3.0,1.0053) (3.76,1.0036) (4.06,1.0006) (4.36,0.9946) (4.54,0.9884) (4.66,0.9856) (4.78,0.9884) (4.96,0.9946)
(5.26,1.0006) (5.56,1.0036) (6.3,1.0048) (7.06,1.0031) (7.36,0.9994) (7.66,0.9921) (7.84,0.9844) (7.96,0.981) (8.08,0.9844) (8.26,0.9921)
(8.56,0.9994) (8.86,1.0031) (9.6,1.0054) (10.6,1.0059) (11.5,1.0061)
};
\addplot[comp, cred] coordinates {
(-11.5,1.0072) (-9.2,1.007) (-8.85,1.0066) (-8.35,1.0051) (-8.05,1.0007) (-7.85,0.9965) (-7.65,1.0007) (-7.35,1.0051) (-6.85,1.0066) (-5.55,1.0067)
(-5.05,1.0057) (-4.75,1.0025) (-4.55,0.9995) (-4.35,1.0025) (-4.05,1.0057) (-3.55,1.0067) (-2.15,1.0069) (-1.65,1.0061) (-1.35,1.0037) (-1.15,1.0015)
(-0.95,1.0037) (-0.65,1.0061) (-0.15,1.0068) (0.3,1.0069) (0.8,1.0061) (1.1,1.0037) (1.3,1.0015) (1.5,1.0037) (1.8,1.0061) (2.3,1.0069)
(3.72,1.0067) (4.22,1.0057) (4.52,1.0025) (4.72,0.9995) (4.92,1.0025) (5.22,1.0057) (5.72,1.0067) (7.45,1.0065) (7.95,1.005) (8.25,1.0005)
(8.45,0.9962) (8.65,1.0005) (8.95,1.005) (9.45,1.0065) (11.5,1.0072)
};
\addplot[comp, cred] coordinates {
(-11.5,1.0082) (-8.75,1.0077) (-8.25,1.0066) (-7.95,1.0032) (-7.75,1.0) (-7.55,1.0032) (-7.25,1.0066) (-6.75,1.0077) (-5.45,1.0079) (-4.95,1.0071)
(-4.65,1.0047) (-4.45,1.0025) (-4.25,1.0047) (-3.95,1.0071) (-3.45,1.0079) (-2.1,1.008) (-1.6,1.0075) (-1.3,1.0059) (-1.1,1.0045) (-0.9,1.0059)
(-0.6,1.0075) (0.25,1.008) (0.75,1.0075) (1.05,1.0059) (1.25,1.0045) (1.45,1.0059) (1.75,1.0075) (3.62,1.0079) (4.12,1.0071) (4.42,1.0047)
(4.62,1.0025) (4.82,1.0047) (5.12,1.0071) (5.62,1.0079) (6.95,1.0077) (7.45,1.0066) (7.75,1.0032) (7.95,1.0) (8.15,1.0032) (8.45,1.0066)
(8.95,1.0077) (11.5,1.0082)
};
\addplot[comp, cred] coordinates {
(-11.5,1.0093) (-8.6,1.009) (-8.1,1.0082) (-7.8,1.0061) (-7.6,1.004) (-7.4,1.0061) (-7.1,1.0082) (-6.6,1.009) (-5.4,1.0091) (-4.9,1.0085)
(-4.6,1.007) (-4.4,1.0055) (-4.2,1.007) (-3.9,1.0085) (-3.4,1.0091) (-1.55,1.0088) (-1.25,1.0078) (-1.05,1.0068) (-0.85,1.0078) (-0.55,1.0088)
(0.7,1.0088) (1.0,1.0078) (1.2,1.0068) (1.4,1.0078) (1.7,1.0088) (3.55,1.0091) (4.05,1.0085) (4.35,1.007) (4.55,1.0055) (4.75,1.007)
(5.05,1.0085) (5.55,1.0091) (6.8,1.009) (7.3,1.0082) (7.6,1.0061) (7.8,1.004) (8.0,1.0061) (8.3,1.0082) (8.8,1.009) (11.5,1.0093)
};
\addplot[comp, cbv] coordinates {
(-11.5,1.0101) (-1.2,1.01) (-0.5,1.0097) (0.15,1.0092) (0.8,1.0097) (1.5,1.01) (11.5,1.0101)
};
\node[anchor=east, font=\lab] at (axis cs:10.85,0.9531) {x = 0};
\end{axis}

\draw[line width=0.8pt] (p1.north west) rectangle (p5.south east);
\node[rotate=90, font=\lab] at (8pt,-142pt) {Counts};
\node[font=\lab] at (185pt,-665pt) {Velocity (mm/s)};
\end{tikzpicture}
\end{document}
